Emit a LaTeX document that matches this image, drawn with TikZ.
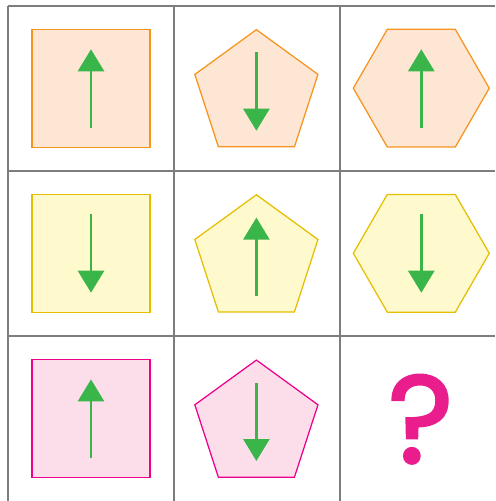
\documentclass[tikz,border=0pt]{standalone}
\usepackage{fontspec}
\newfontfamily\qfont{Poppins}[FakeBold=2]
\usetikzlibrary{shapes.geometric,arrows.meta}

\definecolor{gridgray}{RGB}{125,125,125}
\definecolor{orangeline}{RGB}{247,148,30}
\definecolor{orangefill}{RGB}{253,230,212}
\definecolor{yellowline}{RGB}{229,190,1}
\definecolor{yellowfill}{RGB}{255,250,205}
\definecolor{pinkline}{RGB}{236,0,140}
\definecolor{pinkfill}{RGB}{251,222,234}
\definecolor{arrowgreen}{RGB}{57,181,74}
\definecolor{qpink}{RGB}{233,30,140}

\begin{document}
\begin{tikzpicture}[x=0.02cm, y=-0.02cm,
	gridline/.style={draw=gridgray, line width=0.4mm},
	tile/.style={line width=0.25mm, inner sep=0pt, outer sep=0pt},
	sq/.style={tile, rectangle, minimum size=2.36cm},
	penta/.style={tile, regular polygon, regular polygon sides=5, minimum size=2.59cm},
	hexa/.style={tile, regular polygon, regular polygon sides=6, minimum size=2.72cm},
	orangetile/.style={draw=orangeline, fill=orangefill},
	yellowtile/.style={draw=yellowline, fill=yellowfill},
	pinktile/.style={draw=pinkline, fill=pinkfill},
	greenarrow/.style={draw=arrowgreen, line width=0.55mm,
		-{Triangle[length=0.44cm, width=0.52cm]}}]

	\useasboundingbox (0,0) rectangle (495,501);

	% grid
	\foreach \x in {8,174,339.5}
		\draw[gridline] (\x,5.5) -- (\x,501);
	\foreach \y in {5.5,170.5,336}
		\draw[gridline] (8,\y) -- (495,\y);

	% row 1
	\node[sq, orangetile] (sqA) at (91,88.2) {};
	\node[penta, orangetile] (pentA) at (256.4,94.4) {};
	\node[hexa, orangetile] (hexA) at (421.3,88.2) {};
	% row 2
	\node[sq, yellowtile] (sqB) at (91,253.3) {};
	\node[penta, yellowtile] (pentB) at (256.4,259.5) {};
	\node[hexa, yellowtile] (hexB) at (421.3,253.3) {};
	% row 3
	\node[sq, pinktile] (sqC) at (91,418.6) {};
	\node[penta, pinktile] (pentC) at (256.4,424.8) {};
	\node[qpink, inner sep=0pt, font=\qfont\fontsize{71}{71}\selectfont] (quest) at (420.7,419.2) {?};

	% arrows, \d=-1 up, \d=1 down
	\foreach \x/\y/\d in {91/88.5/-1, 256.4/91.5/1, 421.3/88.5/-1,
		91/253.5/1, 256.4/256.8/-1, 421.3/253.5/1,
		91/418.6/-1, 256.4/421.8/1}
		\draw[greenarrow] (\x,\y-\d*39.2) -- (\x,\y+\d*39.2);

\end{tikzpicture}
\end{document}
